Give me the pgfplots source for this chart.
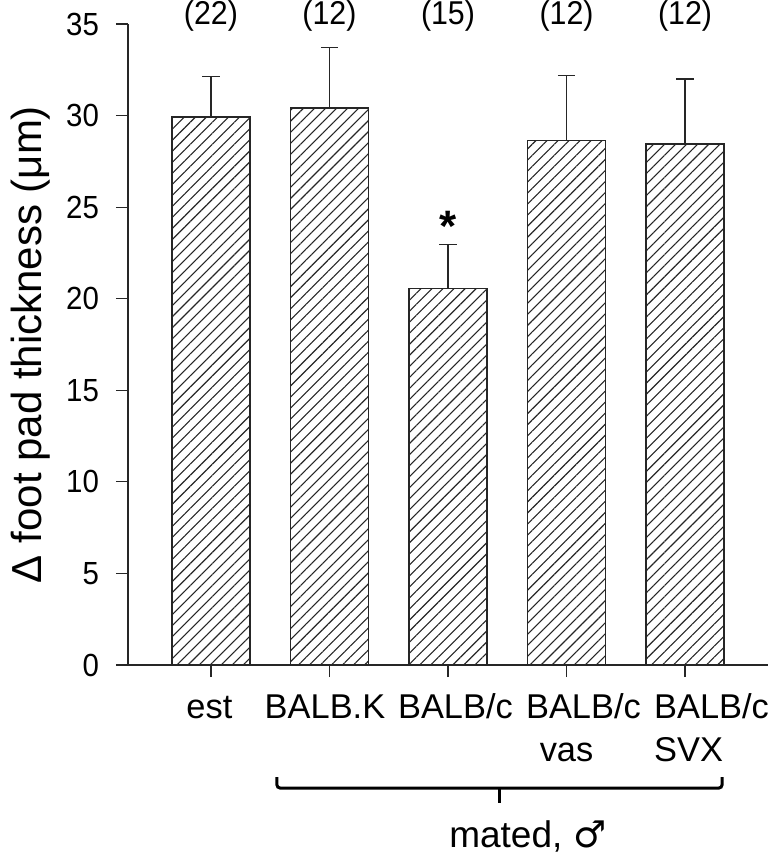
\documentclass[border=0pt]{standalone}
\usepackage{fontspec}
\setmainfont{Liberation Sans}
\newfontfamily\dejavu{DejaVu Sans}
\newfontfamily\narrow{Liberation Sans}[FakeStretch=0.92]
\usepackage{pgfplots}
\usepackage{pgfplotstable}
\pgfplotsset{compat=1.18}
\usetikzlibrary{patterns.meta}

\pgfplotstableread{
x y err
0 29.93 2.22
1 30.42 3.28
2 20.57 2.37
3 28.65 3.54
4 28.45 3.55
}\data

\begin{document}
\begin{tikzpicture}
\begin{axis}[
  name=ax,
  scale only axis, width=320pt, height=320.5pt,
  xmin=-0.7, xmax=4.7, ymin=0, ymax=35,
  axis x line=bottom, axis y line=left,
  axis line style={-, line width=0.6pt, color=black!85},
  ytick={0,5,...,35},
  xtick={0,1,2,3,4},
  xticklabels={,,,,},
  yticklabel style={font=\narrow\fontsize{16}{18}\selectfont, xshift=-5pt},
  /pgf/number format/assume math mode=true,
  tick align=outside, major tick length=6pt,
  tick style={color=black!85, line width=0.6pt},
  clip=false,
]
\addplot[ybar, bar width=39pt, draw=black!85, line width=0.7pt,
  pattern={Lines[angle=45,distance=3.9pt,line width=0.55pt]}, pattern color=black!85,
  error bars/.cd, y dir=plus, y explicit,
  error bar style={line width=0.6pt, black!85},
  error mark options={rotate=90, mark size=4.3pt, line width=0.6pt, black!85}]
  table[x=x, y=y, y error=err]{\data};
% x axis line extends left under the y-tick length
\draw[line width=0.6pt, black!85] (rel axis cs:0,0) -- ++(-6.5pt,0);
% category labels
\node[anchor=base, font=\fontsize{17.2}{20}\selectfont, inner sep=0pt] at ([yshift=-26.5pt]axis cs:-0.013,0) {est};
\node[anchor=base, font=\fontsize{17.2}{20}\selectfont, inner sep=0pt] at ([yshift=-26.5pt]axis cs:0.962,0) {BALB.K};
\node[anchor=base, font=\fontsize{17.2}{20}\selectfont, inner sep=0pt] at ([yshift=-26.5pt]axis cs:2.063,0) {BALB/c};
\node[anchor=base, font=\fontsize{17.2}{20}\selectfont, inner sep=0pt] at ([yshift=-26.5pt]axis cs:3.143,0) {BALB/c};
\node[anchor=base, font=\fontsize{17.2}{20}\selectfont, inner sep=0pt] at ([yshift=-26.5pt]axis cs:4.224,0) {BALB/c};
\node[anchor=base, font=\fontsize{17.2}{20}\selectfont, inner sep=0pt] at ([yshift=-48pt]axis cs:3.0,0) {vas};
\node[anchor=base, font=\fontsize{17.2}{20}\selectfont, inner sep=0pt] at ([yshift=-48pt]axis cs:4.03,0) {SVX};
% sample sizes
\node[anchor=base, font=\narrow\fontsize{16.5}{18}\selectfont, inner sep=0pt] at (axis cs:0,35) {(22)};
\node[anchor=base, font=\narrow\fontsize{16.5}{18}\selectfont, inner sep=0pt] at (axis cs:1,35) {(12)};
\node[anchor=base, font=\narrow\fontsize{16.5}{18}\selectfont, inner sep=0pt] at (axis cs:2,35) {(15)};
\node[anchor=base, font=\narrow\fontsize{16.5}{18}\selectfont, inner sep=0pt] at (axis cs:3,35) {(12)};
\node[anchor=base, font=\narrow\fontsize{16.5}{18}\selectfont, inner sep=0pt] at (axis cs:4,35) {(12)};
% significance
\node[anchor=base, font=\fontsize{22}{24}\selectfont\bfseries, inner sep=0pt] at (axis cs:2,23.1) {*};
% y label
\node[rotate=90, anchor=base, font=\fontsize{21}{24}\selectfont, inner sep=0pt]
  at ([xshift=-43pt]rel axis cs:0,0.5) {Δ foot pad thickness (μm)};
% brace
\draw[line width=1.5pt, rounded corners=1.5pt]
  ([yshift=-56pt]axis cs:0.557,0) -- ([yshift=-61.5pt]axis cs:0.557,0)
  -- ([yshift=-61.5pt]axis cs:4.312,0) -- ([yshift=-56pt]axis cs:4.312,0);
\draw[line width=1.5pt] ([yshift=-61.5pt]axis cs:2.435,0) -- ([yshift=-69pt]axis cs:2.435,0);
\node[anchor=base, font=\fontsize{18.5}{22}\selectfont, inner sep=0pt]
  at ([yshift=-91pt]axis cs:2.675,0) {mated,\hspace{0.3em}{\dejavu ♂}};
\end{axis}
\pgfresetboundingbox
\path (ax.south west) ++(-64pt,-94pt) rectangle ++(385pt,426.5pt);
\end{tikzpicture}
\end{document}
